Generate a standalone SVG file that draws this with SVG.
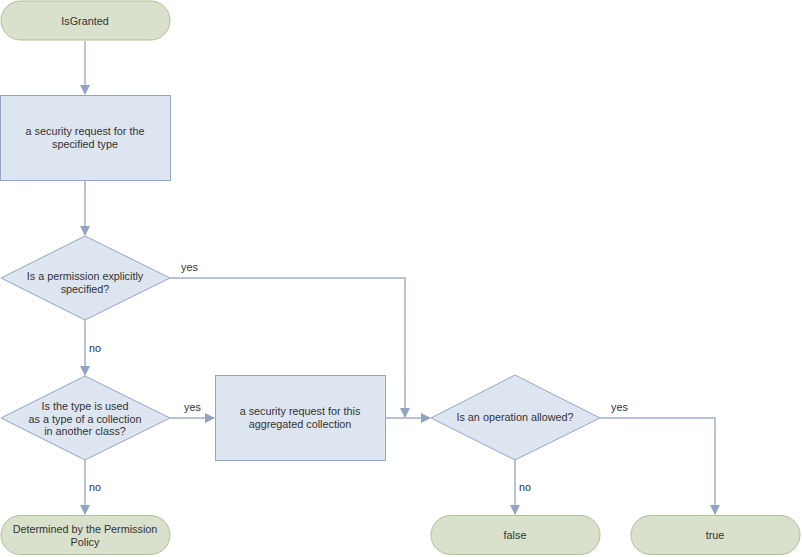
<svg xmlns="http://www.w3.org/2000/svg" width="802" height="557" viewBox="0 0 802 557">
<style>
.term{fill:#d9e0cb;stroke:#b0c095;stroke-width:1}
.box{fill:#dde5f0;stroke:#93a5c6;stroke-width:1}
.edge{fill:none;stroke:#a3b0ca;stroke-width:1.5}
text{font-family:"Liberation Sans",Arial,sans-serif;font-size:10.8px;fill:#333333;text-anchor:middle}
.lbl{text-anchor:start}
</style>
<defs>
<marker id="arr" markerWidth="10" markerHeight="10" refX="9" refY="5" orient="auto" markerUnits="userSpaceOnUse">
<path d="M0,0 L10,5 L0,10 Z" fill="#93a3c3"/>
</marker>
</defs>
<g id="connectors">
<path class="edge" d="M85,41 V94" marker-end="url(#arr)"/>
<path class="edge" d="M85,181 V235" marker-end="url(#arr)"/>
<path class="edge" d="M170,278 H405 V417" marker-end="url(#arr)"/>
<path class="edge" d="M85,320 V375" marker-end="url(#arr)"/>
<path class="edge" d="M170,418 H214" marker-end="url(#arr)"/>
<path class="edge" d="M385,418 H430" marker-end="url(#arr)"/>
<path class="edge" d="M85,460 V514" marker-end="url(#arr)"/>
<path class="edge" d="M515,460 V514" marker-end="url(#arr)"/>
<path class="edge" d="M600,418 H715 V514" marker-end="url(#arr)"/>
<text class="lbl" x="181" y="271">yes</text>
<text class="lbl" x="89" y="352">no</text>
<text class="lbl" x="184" y="411">yes</text>
<text class="lbl" x="89" y="491">no</text>
<text class="lbl" x="519" y="491">no</text>
<text class="lbl" x="611" y="411">yes</text>
</g>
<g id="isgranted">
<rect class="term" x="1" y="1" width="169" height="39" rx="19.5"/>
<text x="85" y="24.5">IsGranted</text>
</g>
<g id="request1">
<rect class="box" x="0.5" y="95.5" width="170" height="85"/>
<text x="85" y="135">a security request for the</text>
<text x="85" y="148">specified type</text>
</g>
<g id="decision1">
<polygon class="box" points="85,236 170,278 85,320 1,278"/>
<text x="85" y="280">Is a permission explicitly</text>
<text x="85" y="293">specified?</text>
</g>
<g id="decision2">
<polygon class="box" points="85,376 170,418 85,460 1,418"/>
<text x="85" y="410">Is the type is used</text>
<text x="85" y="423">as a type of a collection</text>
<text x="85" y="435">in another class?</text>
</g>
<g id="request2">
<rect class="box" x="215.5" y="375.5" width="170" height="85"/>
<text x="300" y="415">a security request for this</text>
<text x="300" y="428">aggregated collection</text>
</g>
<g id="decision3">
<polygon class="box" points="515,375 600,418 515,460 431,418"/>
<text x="515" y="421">Is an operation allowed?</text>
</g>
<g id="determined">
<rect class="term" x="1" y="515.5" width="169" height="39" rx="19.5"/>
<text x="85" y="533">Determined by the Permission</text>
<text x="85" y="546">Policy</text>
</g>
<g id="false">
<rect class="term" x="431" y="515.5" width="169" height="39" rx="19.5"/>
<text x="515" y="539">false</text>
</g>
<g id="true">
<rect class="term" x="631" y="515.5" width="169" height="39" rx="19.5"/>
<text x="715" y="539">true</text>
</g>
</svg>
